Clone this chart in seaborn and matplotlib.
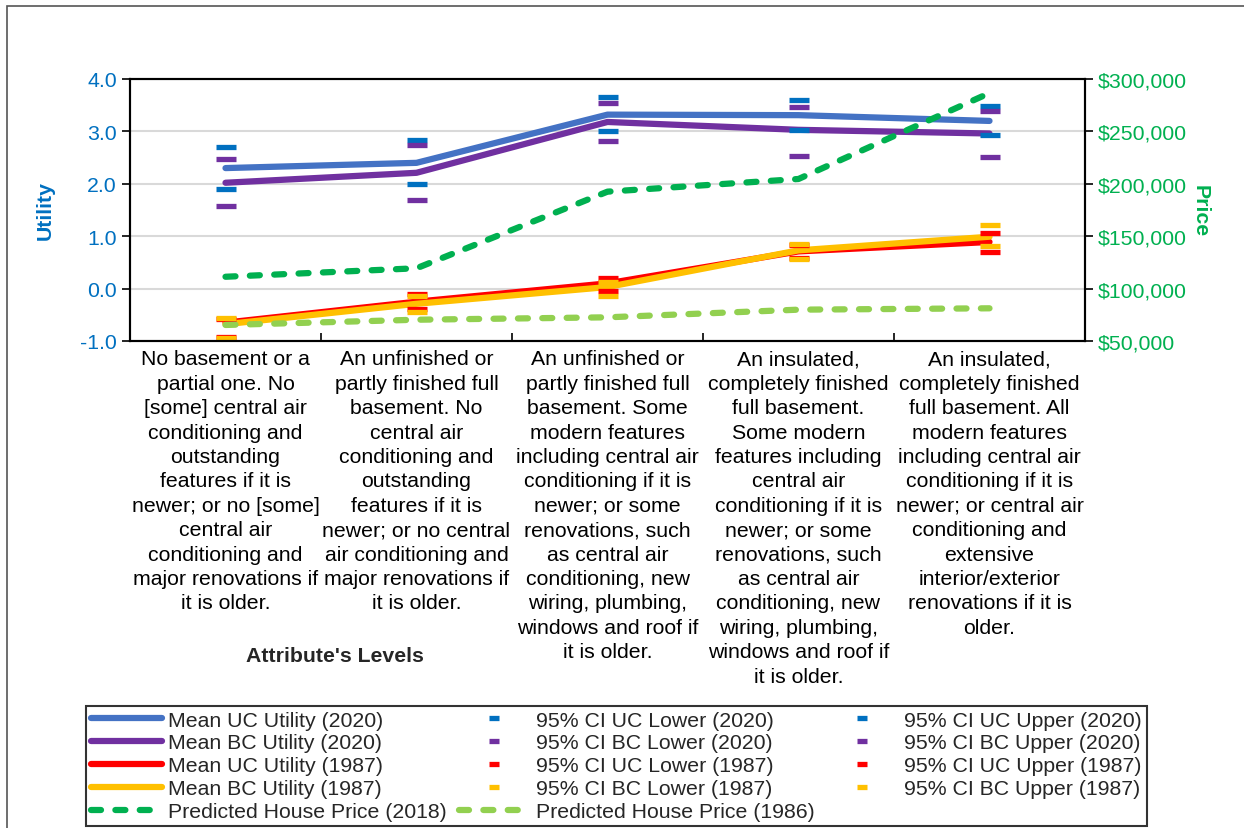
import numpy as np
import pandas as pd
import seaborn as sns
import matplotlib.pyplot as plt
from matplotlib.patches import Rectangle
from matplotlib.ticker import FuncFormatter, FixedLocator

levels = [
    "No basement or a\npartial one. No\n[some] central air\nconditioning and\noutstanding\nfeatures if it is\nnewer; or no [some]\ncentral air\nconditioning and\nmajor renovations if\nit is older.",
    "An unfinished or\npartly finished full\nbasement. No\ncentral air\nconditioning and\noutstanding\nfeatures if it is\nnewer; or no central\nair conditioning and\nmajor renovations if\nit is older.",
    "An unfinished or\npartly finished full\nbasement. Some\nmodern features\nincluding central air\nconditioning if it is\nnewer; or some\nrenovations, such\nas central air\nconditioning, new\nwiring, plumbing,\nwindows and roof if\nit is older.",
    "An insulated,\ncompletely finished\nfull basement.\nSome modern\nfeatures including\ncentral air\nconditioning if it is\nnewer; or some\nrenovations, such\nas central air\nconditioning, new\nwiring, plumbing,\nwindows and roof if\nit is older.",
    "An insulated,\ncompletely finished\nfull basement. All\nmodern features\nincluding central air\nconditioning if it is\nnewer; or central air\nconditioning and\nextensive\ninterior/exterior\nrenovations if it is\nolder.",
]

# mean utilities
uc_2020 = [2.30, 2.40, 3.32, 3.31, 3.20]
bc_2020 = [2.02, 2.21, 3.18, 3.03, 2.96]
uc_1987 = [-0.65, -0.25, 0.10, 0.71, 0.89]
bc_1987 = [-0.68, -0.29, 0.03, 0.73, 0.99]

# 95% confidence limits
uc_2020_lo = [1.91, 1.99, 3.01, 3.03, 2.93]
uc_2020_hi = [2.70, 2.84, 3.65, 3.59, 3.49]
bc_2020_lo = [1.58, 1.69, 2.81, 2.54, 2.52]
bc_2020_hi = [2.48, 2.74, 3.54, 3.46, 3.38]
uc_1987_lo = [-0.92, -0.38, -0.05, 0.59, 0.70]
uc_1987_hi = [-0.58, -0.10, 0.20, 0.84, 1.06]
bc_1987_lo = [-0.95, -0.44, -0.15, 0.57, 0.81]
bc_1987_hi = [-0.56, -0.15, 0.13, 0.86, 1.21]

# predicted prices
price_2018 = [111300, 119400, 192500, 204600, 286600]
price_1986 = [65300, 70300, 72600, 79900, 81200]

BLUE, PURPLE, RED, GOLD = "#4472C4", "#7030A0", "#FF0000", "#FFC000"
CI_BLUE = "#0070C0"
DKGREEN, LTGREEN = "#00B050", "#92D050"

sns.set_theme(style="white")
plt.rcParams['font.family'] = ['Liberation Sans', 'DejaVu Sans']
FS = 15.3

fig = plt.figure(figsize=(12.44, 8.29), dpi=100)
ax = fig.add_axes([130 / 1244, 1 - 342 / 829, 955 / 1244, 262 / 829])
ax2 = ax.twinx()

x = levels
lw = 4.5
h = {}
for key, y, c in [("uc20", uc_2020, BLUE), ("bc20", bc_2020, PURPLE),
                  ("uc87", uc_1987, RED), ("bc87", bc_1987, GOLD)]:
    sns.lineplot(x=x, y=y, ax=ax, color=c, lw=lw, solid_capstyle="round", sort=False)
    h[key] = ax.lines[-1]

ci = [("lo_uc20", uc_2020_lo, CI_BLUE), ("hi_uc20", uc_2020_hi, CI_BLUE),
      ("lo_bc20", bc_2020_lo, PURPLE), ("hi_bc20", bc_2020_hi, PURPLE),
      ("lo_uc87", uc_1987_lo, RED), ("hi_uc87", uc_1987_hi, RED),
      ("lo_bc87", bc_1987_lo, GOLD), ("hi_bc87", bc_1987_hi, GOLD)]
for key, y, c in ci:
    sns.lineplot(x=x, y=y, ax=ax, color=c, marker="_", markersize=15,
                 mew=3.8, mec=c, linestyle="", sort=False)
    h[key] = ax.lines[-1]

dash = (0, (1.6, 2.3))
for key, y, c in [("p18", price_2018, DKGREEN), ("p86", price_1986, LTGREEN)]:
    sns.lineplot(x=x, y=y, ax=ax2, color=c, lw=lw, linestyle=dash,
                 dash_capstyle="round", sort=False)
    h[key] = ax2.lines[-1]

# left axis
ax.set_xlim(-0.5, 4.5)
ax.set_ylim(-1, 4)
ax.set_yticks(np.arange(-1, 4.01, 1))
ax.yaxis.set_major_formatter(FuncFormatter(lambda v, p: f"{v:.1f}"))
ax.tick_params(axis="y", colors="black", labelcolor=CI_BLUE, labelsize=FS,
               direction="out", length=6, width=1.2, left=True)
ax.grid(axis="y", color="#D9D9D9", lw=1.5)
ax.set_axisbelow(True)
ax.set_ylabel("Utility", color=CI_BLUE, fontsize=FS, fontweight="bold", labelpad=18)
ax.set_xlabel("")

ax.xaxis.set_minor_locator(FixedLocator([0.5, 1.5, 2.5, 3.5]))
ax.tick_params(axis="x", which="major", length=0, labelsize=FS, pad=6, labelcolor="black")
ax.tick_params(axis="x", which="minor", direction="in", length=6, width=1.2,
               bottom=True, color="black")
for lab in ax.get_xticklabels():
    lab.set_linespacing(1.36)

# right axis
ax2.set_ylim(50000, 300000)
ax2.set_yticks(np.arange(50000, 300001, 50000))
ax2.yaxis.set_major_formatter(FuncFormatter(lambda v, p: f"${v:,.0f}"))
ax2.tick_params(axis="y", colors="black", labelcolor=DKGREEN, labelsize=FS,
                direction="out", length=6, width=1.2, right=True)
ax2.set_ylabel("Price", color=DKGREEN, fontsize=FS, fontweight="bold",
               rotation=270, labelpad=16)
ax2.grid(False)

for a in (ax, ax2):
    for s in a.spines.values():
        s.set_color("black")
        s.set_linewidth(1.5)

fig.text(335 / 1244, 1 - 657 / 829, "Attribute's Levels", ha="center", va="center",
         fontsize=FS, fontweight="bold")

order = ["uc20", "bc20", "uc87", "bc87", "p18",
         "lo_uc20", "lo_bc20", "lo_uc87", "lo_bc87", "p86",
         "hi_uc20", "hi_bc20", "hi_uc87", "hi_bc87"]
names = {
    "uc20": "Mean UC Utility (2020)", "bc20": "Mean BC Utility (2020)",
    "uc87": "Mean UC Utility (1987)", "bc87": "Mean BC Utility (1987)",
    "p18": "Predicted House Price (2018)", "p86": "Predicted House Price (1986)",
    "lo_uc20": "95% CI UC Lower (2020)", "hi_uc20": "95% CI UC Upper (2020)",
    "lo_bc20": "95% CI BC Lower (2020)", "hi_bc20": "95% CI BC Upper (2020)",
    "lo_uc87": "95% CI UC Lower (1987)", "hi_uc87": "95% CI UC Upper (1987)",
    "lo_bc87": "95% CI BC Lower (1987)", "hi_bc87": "95% CI BC Upper (1987)",
}
leg = fig.legend([h[k] for k in order], [names[k] for k in order], ncol=3,
                 loc="upper left", bbox_to_anchor=(86 / 1244, 1 - 707 / 829),
                 fontsize=FS, frameon=True, fancybox=False, edgecolor="black",
                 handlelength=3.35, handletextpad=0.3, columnspacing=0.55,
                 labelspacing=0.18, borderpad=0.22, markerscale=0.45,
                 borderaxespad=0)
leg.get_frame().set_linewidth(1.5)

fig.add_artist(Rectangle((7 / 1244, -0.1), 1.2, 1 - 7 / 829 + 0.1,
                         transform=fig.transFigure, fill=False,
                         edgecolor="#555555", lw=1.2))

fig.savefig("out.png", dpi=100)
